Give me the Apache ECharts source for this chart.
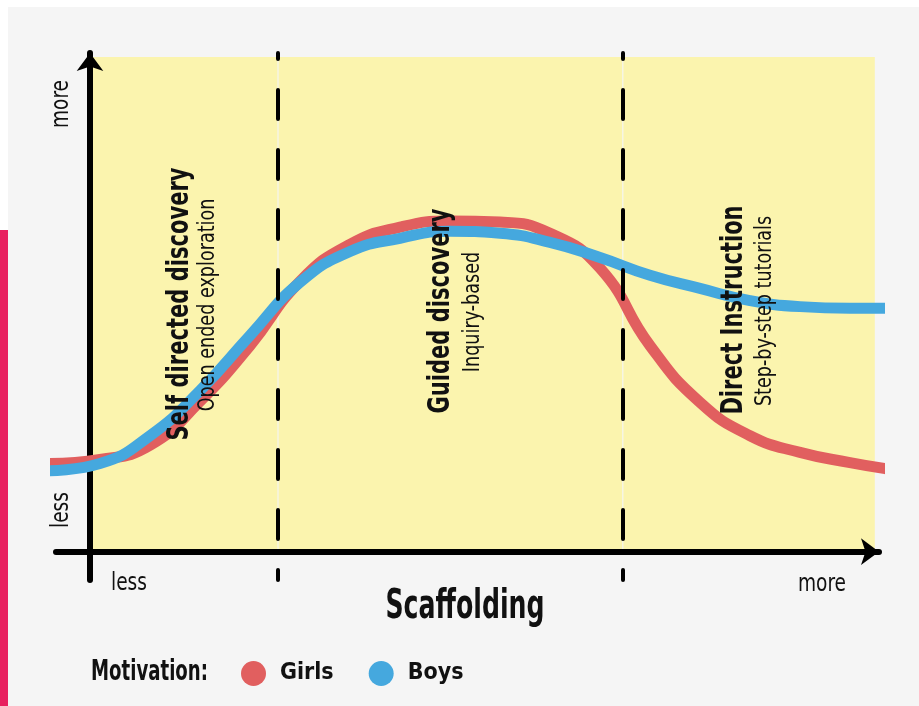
<!DOCTYPE html>
<html>
<head>
<meta charset="utf-8">
<script src="https://cdn.jsdelivr.net/npm/echarts@6/dist/echarts.min.js"></script>
<style>
  html, body { margin: 0; padding: 0; background: #fff; }
  #main { width: 919px; height: 706px; }
</style>
</head>
<body>
<div id="main"></div>
<script>
// scaffolding level (x) shared by both curves
let scaffold = [-5, 1.25, 7.5, 13.75, 20, 26.25, 32.5, 38.75, 45, 51.25, 57.5, 63.75, 70, 76.25, 82.5, 88.75, 95, 99.4]
// motivation (y)
let girls = [17.4, 18.2, 21.0, 29.7, 40.7, 53.4, 60.7, 64.1, 65.3, 65.1, 62.9, 56.0, 40.7, 29.5, 22.9, 19.6, 17.6, 16.4]
let boys = [16.0, 17.4, 22.9, 31.8, 42.7, 53.2, 59.3, 61.9, 63.3, 62.9, 61.1, 58.1, 54.6, 52.0, 49.6, 48.4, 48.1, 48.1]

// where the three teaching styles split
let stageBreaks = [23.5, 66.6]
let stageTitles = ['Self directed discovery', 'Guided discovery', 'Direct Instruction']
let stageSubs = ['Open ended exploration', 'Inquiry-based', 'Step-by-step tutorials']

const FONT = "'DejaVu Sans Condensed', 'DejaVu Sans', sans-serif"

let myChart = echarts.init(document.getElementById('main'))

let toPairs = ys => scaffold.map((x, i) => [x, ys[i]])

// yellow panels, split by a hairline at each dashed line
let areaEdges = [0, ...stageBreaks, 98.1]
let panels = []
for (let i = 0; i < areaEdges.length - 1; i++) {
    panels.push([
        { xAxis: areaEdges[i] + (i > 0 ? 0.07 : 0), yAxis: 0 },
        { xAxis: areaEdges[i + 1] - (i < areaEdges.length - 2 ? 0.07 : 0), yAxis: 97.7 }
    ])
}

// condensed look: squeeze the text along its baseline
let label = (text, x, y, font, squeeze, rotated) => ({
    type: 'text', x: x, y: y, rotation: rotated ? Math.PI / 2 : 0, scaleX: squeeze, z: 20,
    style: { text: text, font: font, fill: '#111', textAlign: 'center', textVerticalAlign: 'middle' }
})

let stageX = [[180, 208], [441, 473], [734, 765]]
let stageY = [304, 311, 310]
let stageText = []
stageTitles.forEach((t, i) => {
    stageText.push(label(t, stageX[i][0], stageY[i], 'bold 30px ' + FONT, 0.78, true))
    stageText.push(label(stageSubs[i], stageX[i][1], stageY[i] + 1, '23px ' + FONT, 0.85, true))
})

myChart.setOption({
    animation: false,
    backgroundColor: '#fff',
    grid: { left: 56, right: 40, top: 53, bottom: 126, outerBoundsMode: 'none', containLabel: false },
    xAxis: {
        type: 'value', min: -4.25, max: 98.625, z: 2,
        axisLine: { show: true, onZero: true, symbol: ['none', 'arrow'], symbolSize: [20, 18],
            lineStyle: { color: '#000', width: 6, cap: 'round' } },
        axisTick: { show: false }, axisLabel: { show: false }, splitLine: { show: false }
    },
    yAxis: {
        type: 'value', min: -5.6, max: 98.5, z: 2,
        axisLine: { show: true, onZero: true, symbol: ['none', 'arrow'], symbolSize: [20, 18],
            lineStyle: { color: '#000', width: 6, cap: 'round' } },
        axisTick: { show: false }, axisLabel: { show: false }, splitLine: { show: false }
    },
    legend: {
        data: ['Girls', 'Boys'],
        left: 241, top: 661, padding: 0,
        icon: 'circle', itemWidth: 25, itemHeight: 25, itemGap: 35,
        textStyle: { fontSize: 23, fontWeight: 'bold', fontFamily: FONT, color: '#111', padding: [0, 0, 0, 9] }
    },
    graphic: [
        { type: 'rect', shape: { x: 8, y: 7, width: 911, height: 699 }, style: { fill: '#f5f5f5' }, z: -10 },
        { type: 'rect', shape: { x: 0, y: 230, width: 8, height: 476 }, style: { fill: '#e8205f' }, z: -10 },
        label('more', 62, 104, '24px ' + FONT, 0.86, true),
        label('less', 62, 510, '24px ' + FONT, 0.86, true),
        label('less', 129, 584, '24px ' + FONT, 0.86, false),
        label('more', 822, 585, '24px ' + FONT, 0.86, false),
        label('Scaffolding', 465, 608, 'bold 40px ' + FONT, 0.7, false),
        {
            type: 'text', x: 91, y: 673, scaleX: 0.72,
            style: { text: 'Motivation:', font: 'bold 28px ' + FONT, fill: '#111', textAlign: 'left', textVerticalAlign: 'middle' }
        },
        ...stageText
    ],
    series: [
        {
            name: 'stages', type: 'line', data: [], z: 1, silent: true,
            markArea: { silent: true, itemStyle: { color: '#fbf4ae' }, data: panels },
            markLine: {
                silent: true, symbol: ['none', 'none'], label: { show: false },
                lineStyle: { type: [29, 31], dashOffset: 19, width: 4, color: '#000', cap: 'round' },
                data: stageBreaks.map(v => ({ xAxis: v }))
            }
        },
        {
            name: 'Girls', type: 'line', data: toPairs(girls), smooth: 0.5, symbol: 'none', clip: false, z: 3,
            lineStyle: { width: 11, color: '#e15f5f', cap: 'round' }, itemStyle: { color: '#e15f5f' }
        },
        {
            name: 'Boys', type: 'line', data: toPairs(boys), smooth: 0.5, symbol: 'none', clip: false, z: 4,
            lineStyle: { width: 11, color: '#45a8de', cap: 'round' }, itemStyle: { color: '#45a8de' }
        }
    ]
})
</script>
</body>
</html>
